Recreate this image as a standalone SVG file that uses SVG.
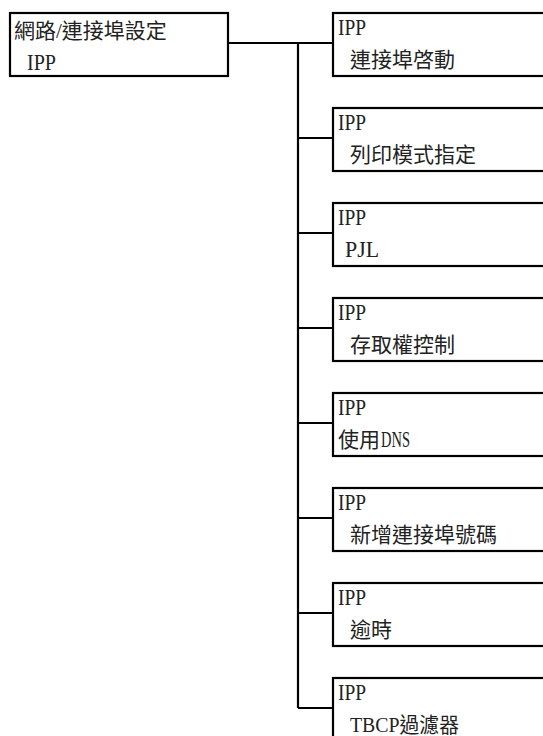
<svg xmlns="http://www.w3.org/2000/svg" width="543" height="736" viewBox="0 0 543 736">
<style>
.box{fill:#fff;stroke:#000;stroke-width:2.2}
.con{fill:none;stroke:#000;stroke-width:2.2}
text{font-family:"Liberation Serif","Noto Sans CJK TC",serif;font-size:21px;fill:#222}
.lat{font-size:23px}
</style>
<rect width="543" height="736" fill="#fff"/>
<g id="connectors">
<path class="con" d="M228 43H333M298 43V708M298 138H333M298 233H333M298 328H333M298 423H333M298 518H333M298 613H333M298 708H333"/>
</g>
<g id="root">
<rect class="box" x="10" y="13" width="218" height="63"/>
<text x="14" y="38">網路/連接埠設定</text>
<text class="lat" x="27" y="70" textLength="29" lengthAdjust="spacingAndGlyphs">IPP</text>
</g>
<g id="n1">
<rect class="box" x="333" y="13" width="220" height="63"/>
<text class="lat" x="338" y="35" textLength="28" lengthAdjust="spacingAndGlyphs">IPP</text>
<text x="350" y="67">連接埠啓動</text>
</g>
<g id="n2">
<rect class="box" x="333" y="108" width="220" height="63"/>
<text class="lat" x="338" y="130" textLength="28" lengthAdjust="spacingAndGlyphs">IPP</text>
<text x="350" y="162">列印模式指定</text>
</g>
<g id="n3">
<rect class="box" x="333" y="203" width="220" height="63"/>
<text class="lat" x="338" y="225" textLength="28" lengthAdjust="spacingAndGlyphs">IPP</text>
<text class="lat" x="345" y="257" textLength="34" lengthAdjust="spacingAndGlyphs">PJL</text>
</g>
<g id="n4">
<rect class="box" x="333" y="298" width="220" height="63"/>
<text class="lat" x="338" y="320" textLength="28" lengthAdjust="spacingAndGlyphs">IPP</text>
<text x="350" y="352">存取權控制</text>
</g>
<g id="n5">
<rect class="box" x="333" y="393" width="220" height="63"/>
<text class="lat" x="338" y="415" textLength="28" lengthAdjust="spacingAndGlyphs">IPP</text>
<text x="338" y="447">使用</text>
<text class="lat" x="381" y="447" textLength="29" lengthAdjust="spacingAndGlyphs">DNS</text>
</g>
<g id="n6">
<rect class="box" x="333" y="488" width="220" height="63"/>
<text class="lat" x="338" y="510" textLength="28" lengthAdjust="spacingAndGlyphs">IPP</text>
<text x="350" y="542">新增連接埠號碼</text>
</g>
<g id="n7">
<rect class="box" x="333" y="583" width="220" height="63"/>
<text class="lat" x="338" y="605" textLength="28" lengthAdjust="spacingAndGlyphs">IPP</text>
<text x="350" y="637">逾時</text>
</g>
<g id="n8">
<rect class="box" x="333" y="678" width="220" height="63"/>
<text class="lat" x="338" y="700" textLength="28" lengthAdjust="spacingAndGlyphs">IPP</text>
<text x="350" y="732" textLength="109" lengthAdjust="spacingAndGlyphs">TBCP過濾器</text>
</g>
</svg>
